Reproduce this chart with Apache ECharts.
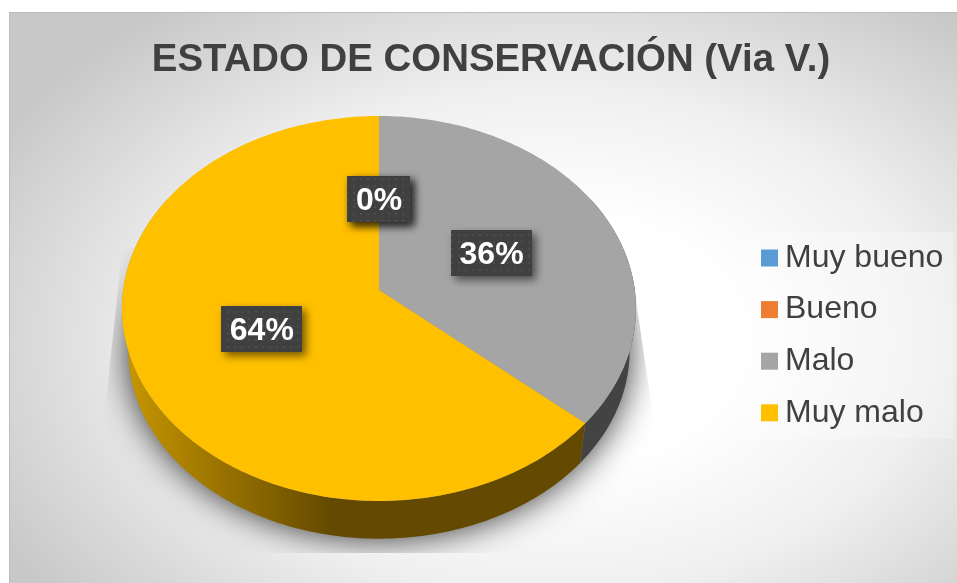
<!DOCTYPE html>
<html>
<head>
<meta charset="utf-8">
<style>html,body{margin:0;padding:0;background:#fff}#c{width:957px;height:583px}</style>
<script src="https://cdn.jsdelivr.net/npm/echarts@6/dist/echarts.min.js"></script>
</head>
<body>
<div id="c"></div>
<script>
var categories = ['Muy bueno', 'Bueno', 'Malo', 'Muy malo'];
var values = [0, 0, 4, 7];
var colors = ['#5B9BD5', '#ED7D31', '#A5A5A5', '#FFC000'];
var chartTitle = 'ESTADO DE CONSERVACIÓN (Via V.)';

var total = values.reduce(function (a, b) { return a + b; }, 0);
var FONT = '"Liberation Sans", Arial, sans-serif';
var CX = 379, CY = 290, A = 255.8, B = 190.7, K = 0.096, DEPTH_Y = 333, DEPTH_S = 0.975;

function project(deg, r, lower) {
  var t = deg * Math.PI / 180, s = lower ? DEPTH_S : 1, w = 1 + K * r * Math.cos(t);
  return [CX + s * A * r * Math.sin(t) / w, (lower ? DEPTH_Y : CY) - s * B * r * Math.cos(t) / w];
}
function arc(from, to, lower) {
  var pts = [], n = Math.max(1, Math.ceil(Math.abs(to - from)));
  for (var i = 0; i <= n; i++) pts.push(project(from + (to - from) * i / n, 1, lower));
  return pts;
}
function sideFill(color) {
  if (color === '#FFC000') {
    return new echarts.graphic.LinearGradient(122, 0, 332, 0, [
      { offset: 0, color: '#C99700' }, { offset: 1, color: '#644A00' }
    ], true);
  }
  return '#434343';
}
function wedgeItem(color) {
  return function (params, api) {
    var start = api.value(0), val = api.value(1);
    if (!val) return { type: 'group', children: [] };
    var a0 = 360 * start / total, a1 = 360 * (start + val) / total, kids = [];
    var s0 = Math.max(a0, 60), s1 = Math.min(a1, 300);
    if (s1 > s0) {
      kids.push({
        type: 'polygon', silent: true,
        shape: { points: arc(s0, s1, false).concat(arc(s1, s0, true)) },
        style: { fill: sideFill(color), stroke: null }
      });
    }
    kids.push({
      type: 'polygon', silent: true,
      shape: { points: [[CX, CY]].concat(arc(a0, a1, false)) },
      style: { fill: color, stroke: null }
    });
    return { type: 'group', children: kids };
  };
}

var tile = document.createElement('canvas');
tile.width = 14; tile.height = 14;
(function () {
  var g = tile.getContext('2d');
  g.fillStyle = '#404040'; g.fillRect(0, 0, 14, 14);
  g.fillStyle = '#4D4D4D';
  [[3, 3], [10, 3], [3, 10], [10, 10]].forEach(function (p) { g.fillRect(p[0], p[1], 2, 2); });
})();
var measure = document.createElement('canvas').getContext('2d');
measure.font = 'bold 32px ' + FONT;

function labelItem(params, api) {
  var start = api.value(0), val = api.value(1);
  var deg = 360 * (start + val / 2) / total;
  var p = project(deg, 0.5, false), c = Math.cos(deg * Math.PI / 180);
  var lx = CX + (p[0] - CX) * 0.987, ly = CY + (p[1] - CY) * (0.955 + 0.045 * c * c);
  var txt = Math.round(100 * val / total) + '%';
  var w = Math.round(measure.measureText(txt).width) + 17, h = 46;
  return {
    type: 'group',
    children: [
      {
        type: 'rect', silent: true,
        shape: { x: Math.floor(lx - w / 2), y: Math.round(ly - h / 2), width: w, height: h },
        style: {
          fill: { image: tile, repeat: 'repeat' }, stroke: null,
          shadowBlur: 8, shadowColor: 'rgba(0,0,0,0.55)', shadowOffsetX: 4, shadowOffsetY: 4
        }
      },
      {
        type: 'text', silent: true,
        style: {
          x: lx, y: ly + 2.5, text: txt, fill: '#FFFFFF', font: 'bold 32px ' + FONT,
          textAlign: 'center', textVerticalAlign: 'middle'
        }
      }
    ]
  };
}

var wedgeSeries = categories.map(function (name, i) {
  var start = values.slice(0, i).reduce(function (a, b) { return a + b; }, 0);
  return {
    type: 'custom', name: name, coordinateSystem: 'none', silent: true, animation: false,
    itemStyle: { color: colors[i] },
    data: [[start, values[i]]],
    renderItem: wedgeItem(colors[i])
  };
});

var shadowSeries = {
  type: 'custom', name: 'sombra', coordinateSystem: 'none', silent: true, animation: false,
  data: [[0]],
  renderItem: function () {
    return {
      type: 'polygon', silent: true,
      shape: { points: arc(0, 360, true) },
      style: { fill: '#8a8a8a', stroke: null, shadowBlur: 34, shadowColor: 'rgba(0,0,0,0.8)', shadowOffsetX: 0, shadowOffsetY: 0 },
      clipPath: { type: 'polygon', shape: { points: [[122, 250], [105, 410], [105, 553], [652, 553], [652, 410], [636, 300], [379, 200]] } }
    };
  }
};

var starts = values.map(function (v, i) { return values.slice(0, i).reduce(function (a, b) { return a + b; }, 0); });
var labelSeries = {
  type: 'custom', name: 'etiquetas', coordinateSystem: 'none', silent: true, animation: false,
  data: starts.map(function (s, i) { return [s, values[i]]; }),
  renderItem: labelItem
};

var BG_SY = 0.66;
var chart = echarts.init(document.getElementById('c'), null, { renderer: 'canvas' });
chart.setOption({
  backgroundColor: '#FFFFFF',
  animation: false,
  graphic: [{
    type: 'rect', z: -2, silent: true,
    shape: { x: 9, y: 12 / BG_SY, width: 950, height: 573 / BG_SY },
    scaleY: BG_SY,
    style: {
      stroke: null,
      fill: new echarts.graphic.RadialGradient(550, 340 / BG_SY, 630, [
        { offset: 0, color: '#FFFFFF' }, { offset: 0.3, color: '#FFFFFF' },
        { offset: 0.6, color: '#F0F0F0' }, { offset: 1.0, color: '#C8C8C8' }
      ], true)
    }
  }, {
    type: 'rect', z: -1, silent: true,
    shape: { x: 9.5, y: 12.5, width: 960, height: 580 },
    style: { fill: null, stroke: '#BDBDBD', lineWidth: 1 }
  }],
  title: {
    text: chartTitle, left: 486, top: 36, textAlign: 'center',
    textStyle: { fontFamily: FONT, fontSize: 38.4, fontWeight: 'bold', color: '#404040' }
  },
  legend: {
    data: categories, orient: 'vertical', left: 747, top: 232,
    icon: 'rect', itemWidth: 17, itemHeight: 17, itemGap: 19.6,
    padding: [10, 11, 10, 14],
    backgroundColor: 'rgba(255,255,255,0.25)',
    selectedMode: false,
    textStyle: { fontFamily: FONT, fontSize: 32, color: '#404040', padding: [0, 0, 0, 2] }
  },
  series: [shadowSeries].concat(wedgeSeries, [labelSeries])
});
</script>
</body>
</html>
